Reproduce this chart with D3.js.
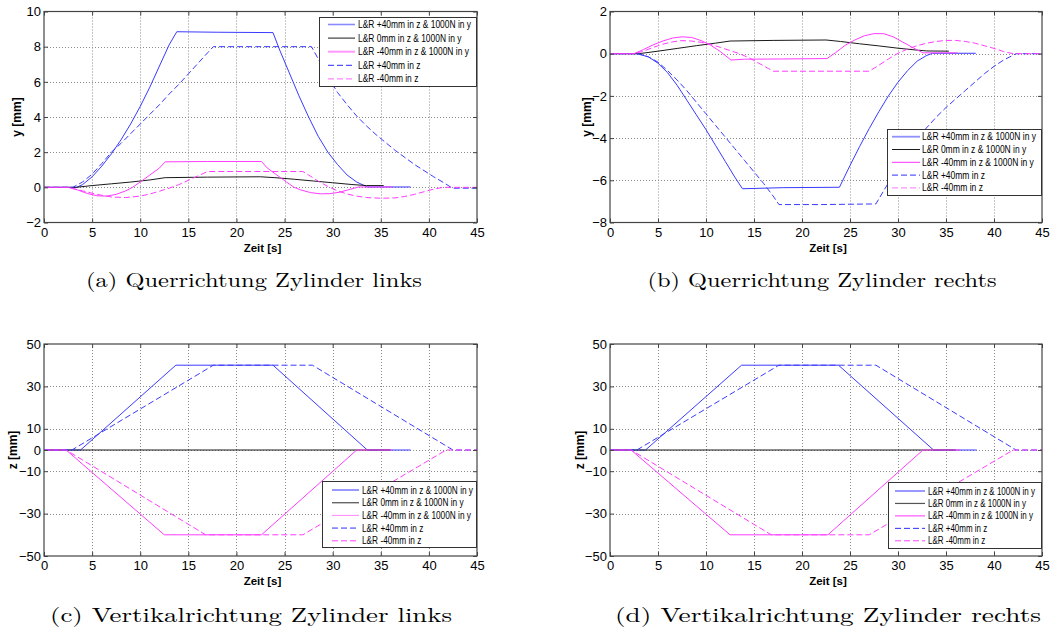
<!DOCTYPE html>
<html>
<head>
<meta charset="utf-8">
<script src="https://cdn.jsdelivr.net/npm/d3@7"></script>
<style>
  html, body { margin: 0; padding: 0; background: #fff; }
  svg { display: block; }
  text { font-family: "Liberation Sans", Arial, sans-serif; fill: #000; }
  .caption { font-family: "Latin Modern Roman", "Liberation Serif", "DejaVu Serif", serif; }
</style>
</head>
<body>
<svg id="fig" width="1061" height="627"></svg>
<script>
// Series labels shared by every panel
const seriesNames = [
  "L&R +40mm in z & 1000N in y",
  "L&R 0mm in z & 1000N in y",
  "L&R -40mm in z & 1000N in y",
  "L&R +40mm in z",
  "L&R -40mm in z"
];

const timeTicks = [0, 5, 10, 15, 20, 25, 30, 35, 40, 45];
const yTicksLeft = [-2, 0, 2, 4, 6, 8, 10];
const yTicksRight = [-8, -6, -4, -2, 0, 2];
const zTicks = [-50, -30, -10, 0, 10, 30, 50];

// (a) lateral displacement y [mm], left cylinder — [time s, value mm]
const aPlus40Force = [[0,0],[3.4,0],[4,0.15],[5,0.6],[6,1.2],[7,1.9],[8,2.7],[9,3.6],[10,4.6],[11,5.7],[12,6.9],[13,8.1],[13.8,8.85],[18,8.82],[23.8,8.8],[24.5,7.8],[25.5,6.5],[26.5,5.2],[27.5,4.0],[28.5,2.9],[29.5,2.0],[30.5,1.3],[31.5,0.7],[32.5,0.3],[33.6,0.02],[38.1,0.02]];
const aZeroForce = [[0,0],[3.3,0],[5,0.1],[7,0.2],[9,0.3],[11,0.42],[12.6,0.55],[17,0.58],[22.5,0.6],[24,0.55],[26,0.46],[28,0.36],[30,0.26],[32,0.16],[33.5,0.1],[35.3,0.1]];
const aMinus40Force = [[0,0],[2.5,0],[3.5,-0.15],[4.5,-0.35],[5.5,-0.48],[6.5,-0.5],[7.5,-0.4],[8.5,-0.2],[9.2,0],[10,0.3],[11,0.7],[12,1.1],[12.6,1.45],[17,1.47],[22.6,1.47],[23.2,1.1],[24.2,0.7],[25.2,0.3],[26,0],[26.7,-0.15],[27.7,-0.3],[28.7,-0.37],[29.7,-0.36],[30.7,-0.28],[31.7,-0.13],[32.7,0.02],[36.2,0.02]];
const aPlus40 = [[0,0],[3,0],[4,0.3],[5,0.75],[6,1.35],[7,2.0],[8,2.5],[9,3.05],[10,3.6],[11,4.15],[12,4.7],[13,5.3],[14,5.85],[15,6.45],[16,7.05],[17,7.65],[17.6,8.0],[22,8.0],[27.8,8.0],[28.5,7.3],[29.5,6.3],[30.5,5.4],[31.5,4.7],[32.5,4.05],[33.5,3.5],[34.5,3.0],[35.5,2.55],[36.5,2.1],[37.5,1.7],[38.5,1.3],[39.5,0.95],[40.5,0.6],[41.5,0.28],[42.3,0],[42.6,-0.05],[45,-0.05]];
const aMinus40 = [[0,0],[2.5,0],[4,-0.2],[5.5,-0.4],[7,-0.55],[8.5,-0.58],[10,-0.5],[11,-0.38],[12,-0.22],[13,-0.05],[14,0.15],[15,0.4],[16,0.65],[17,0.9],[22,0.9],[26.9,0.9],[27.5,0.7],[28.5,0.35],[29.5,0.05],[30.5,-0.2],[31.5,-0.38],[32.5,-0.5],[33.5,-0.58],[35,-0.62],[36.5,-0.6],[37.5,-0.52],[38.5,-0.4],[39.5,-0.25],[40.5,-0.1],[41.5,0],[45,0]];

// (b) lateral displacement y [mm], right cylinder
const bPlus40Force = [[0,0],[2.8,0],[4,-0.15],[5,-0.45],[6,-0.9],[7,-1.5],[8,-2.2],[9,-2.9],[10,-3.6],[11,-4.35],[12,-5.1],[13,-5.85],[13.8,-6.4],[18,-6.35],[23.9,-6.33],[25,-5.3],[26,-4.4],[27,-3.55],[28,-2.75],[29,-2.0],[30,-1.35],[31,-0.8],[32,-0.35],[33,-0.08],[33.6,0.02],[38.1,0.02]];
const bZeroForce = [[0,0],[3,0],[5,0.12],[7,0.25],[9,0.38],[11,0.5],[12.5,0.6],[17,0.63],[22.5,0.65],[24,0.58],[26,0.47],[28,0.37],[30,0.26],[32,0.17],[33,0.13],[35.3,0.12]];
const bMinus40Force = [[0,0],[2.5,0],[3.5,0.2],[4.5,0.42],[5.5,0.6],[6.5,0.74],[7.5,0.8],[8.5,0.77],[9.5,0.62],[10.5,0.4],[11.5,0.1],[12.6,-0.3],[14,-0.26],[18,-0.25],[22.6,-0.23],[23.5,0.05],[24.5,0.4],[25.5,0.65],[26.5,0.85],[27.5,0.95],[28.5,0.95],[29.5,0.8],[30.5,0.55],[31.5,0.3],[32.6,0.04],[36.2,0.04]];
const bPlus40 = [[0,0],[3,0],[4,-0.15],[5,-0.4],[6,-0.8],[7,-1.25],[8,-1.75],[9,-2.3],[10,-2.85],[11,-3.4],[12,-3.95],[13,-4.5],[14,-5.05],[15,-5.6],[16,-6.15],[17,-6.75],[17.6,-7.15],[22,-7.15],[27.7,-7.12],[28.5,-6.5],[29.5,-5.75],[30.5,-5.05],[31.5,-4.4],[32.8,-3.6],[34,-3.0],[35,-2.55],[36,-2.15],[37,-1.75],[38,-1.35],[39,-0.95],[40,-0.6],[41,-0.3],[42.3,0],[45,0]];
const bMinus40 = [[0,0],[2.5,0],[3.5,0.12],[4.5,0.3],[5.5,0.45],[6.5,0.56],[7.5,0.62],[8.5,0.6],[9.5,0.54],[10.5,0.44],[11.5,0.3],[12.5,0.15],[13.5,0],[14.5,-0.2],[15.5,-0.45],[16.5,-0.7],[17,-0.83],[22,-0.83],[27,-0.83],[28,-0.55],[29,-0.25],[30,0.02],[31,0.22],[32,0.38],[33,0.5],[34,0.58],[35,0.63],[36,0.63],[37,0.58],[38,0.5],[39,0.38],[40,0.25],[41,0.1],[42,0],[45,0]];

// (c) vertical displacement z [mm], left cylinder
const cPlus40Force = [[0,0],[3.8,0],[13.7,40],[23.8,40],[33.6,0],[38.1,0]];
const cZeroForce = [[0,0],[36,0]];
const cMinus40Force = [[0,0],[2.3,0],[12.5,-40],[22.6,-40],[32.5,0],[36.2,0]];
const cPlus40 = [[0,0],[2.9,0],[17.6,40],[27.9,40],[42.5,0],[45,0]];
const cMinus40 = [[0,0],[2.3,0],[16.8,-40],[26.9,-40],[41.8,0],[45,0]];

// (d) vertical displacement z [mm], right cylinder
const dPlus40Force = [[0,0],[3.7,0],[13.7,40],[23.8,40],[33.7,0],[38.2,0]];
const dZeroForce = [[0,0],[36,0]];
const dMinus40Force = [[0,0],[2.2,0],[12.5,-40],[22.7,-40],[32.6,0],[36.5,0]];
const dPlus40 = [[0,0],[2.8,0],[17.6,40],[27.7,40],[42.3,0],[45,0]];
const dMinus40 = [[0,0],[2.2,0],[16.8,-40],[27,-40],[42,0],[45,0]];

const BLUE = "#3a3aff", BLACK = "#1a1a1a", MAGENTA = "#ff3cff";
const DASH = "6,3";

const panels = [
  { box: [44, 477, 11.5, 222.5], yDomain: [-2, 10], yTicks: yTicksLeft, yLabel: "y [mm]", yLabelX: 21,
    caption: "(a) Querrichtung Zylinder links", capX: 254, capY: 287, capW: 336,
    series: [aPlus40Force, aZeroForce, aMinus40Force, aPlus40, aMinus40],
    legend: { x: 319, y: 17, w: 158, h: 69, l0: 328, l1: 355, tx: 358, textW: 113, row0: 24.5, dy: 13.6,
              colors: ["#8a8aff", BLACK, "#ff99ff", "#2a2aff", "#ff66ff"], widths: [1.6, 1, 2, 1, 1] } },
  { box: [610, 1042, 11.5, 222.5], yDomain: [-8, 2], yTicks: yTicksRight, yLabel: "y [mm]", yLabelX: 591,
    caption: "(b) Querrichtung Zylinder rechts", capX: 822, capY: 287, capW: 349,
    series: [bPlus40Force, bZeroForce, bMinus40Force, bPlus40, bMinus40],
    legend: { x: 887, y: 129, w: 155, h: 66, l0: 892, l1: 920, tx: 922, textW: 114, row0: 136.7, dy: 12.8,
              colors: ["#8f8fff", BLACK, "#ff33ff", "#3030ff", "#ff77ff"], widths: [1.8, 1, 1, 1, 1] } },
  { box: [44, 477, 344, 556], yDomain: [-50, 50], yTicks: zTicks, yLabel: "z [mm]", yLabelX: 17,
    caption: "(c) Vertikalrichtung Zylinder links", capX: 251, capY: 622, capW: 402,
    series: [cPlus40Force, cZeroForce, cMinus40Force, cPlus40, cMinus40],
    legend: { x: 322, y: 481, w: 155, h: 66, l0: 332, l1: 359, tx: 362, textW: 111, row0: 490, dy: 12.7,
              colors: ["#3333ff", "#666666", "#ff88ff", "#8888ff", "#ff44ff"], widths: [1, 1.4, 1, 1.6, 1] } },
  { box: [610, 1042, 344, 556], yDomain: [-50, 50], yTicks: zTicks, yLabel: "z [mm]", yLabelX: 584,
    caption: "(d) Vertikalrichtung Zylinder rechts", capX: 828, capY: 622, capW: 426,
    series: [dPlus40Force, dZeroForce, dMinus40Force, dPlus40, dMinus40],
    legend: { x: 888, y: 482, w: 154, h: 66, l0: 895, l1: 925, tx: 928, textW: 107, row0: 491, dy: 12.45,
              colors: ["#9999ff", "#555555", "#ff33ff", "#2a2aff", "#ff44ff"], widths: [2, 1.2, 1, 1, 1] } }
];

const seriesColor = [BLUE, BLACK, MAGENTA, BLUE, MAGENTA];
const seriesDash = [null, null, null, DASH, DASH];

const svg = d3.select("#fig");

panels.forEach((p) => {
  const [x0, x1, yTop, yBot] = p.box;
  const x = d3.scaleLinear().domain([0, 45]).range([x0, x1]);
  const y = d3.scaleLinear().domain(p.yDomain).range([yBot, yTop]);
  const g = svg.append("g");

  // dotted grid
  const grid = g.append("g").attr("stroke", "#8c8c8c").attr("stroke-width", 1)
    .attr("stroke-dasharray", "1,2");
  grid.selectAll(".gx").data(timeTicks.slice(1, -1)).join("line")
    .attr("x1", d => Math.round(x(d)) + 0.5).attr("x2", d => Math.round(x(d)) + 0.5)
    .attr("y1", yTop).attr("y2", yBot);
  grid.selectAll(".gy").data(p.yTicks.slice(1, -1)).join("line")
    .attr("y1", d => Math.round(y(d)) + 0.5).attr("y2", d => Math.round(y(d)) + 0.5)
    .attr("x1", x0).attr("x2", x1);

  // data lines
  const line = d3.line().x(d => x(d[0])).y(d => y(d[1]));
  p.series.forEach((s, i) => {
    g.append("path").datum(s)
      .attr("fill", "none")
      .attr("stroke", seriesColor[i])
      .attr("stroke-width", 1)
      .attr("stroke-dasharray", seriesDash[i])
      .attr("d", line);
  });

  // axes with inward ticks on all four sides
  const axisColor = "#444";
  const bottom = g.append("g").attr("transform", `translate(0,${yBot})`)
    .call(d3.axisBottom(x).tickValues(timeTicks).tickSizeInner(-4).tickSizeOuter(0).tickPadding(5));
  const top = g.append("g").attr("transform", `translate(0,${yTop})`)
    .call(d3.axisTop(x).tickValues(timeTicks).tickSizeInner(-4).tickSizeOuter(0).tickFormat(""));
  const left = g.append("g").attr("transform", `translate(${x0},0)`)
    .call(d3.axisLeft(y).tickValues(p.yTicks).tickSizeInner(-4).tickSizeOuter(0).tickPadding(3));
  const right = g.append("g").attr("transform", `translate(${x1},0)`)
    .call(d3.axisRight(y).tickValues(p.yTicks).tickSizeInner(-4).tickSizeOuter(0).tickFormat(""));
  [bottom, top, left, right].forEach(a => {
    a.select(".domain").remove();
    a.selectAll("line").attr("stroke", axisColor);
    a.selectAll("text").attr("font-size", 13)
      .attr("font-family", "'Liberation Sans', Arial, sans-serif").attr("fill", "#000");
  });
  bottom.selectAll("text").attr("dy", "0.71em");
  g.append("rect").attr("x", x0).attr("y", yTop)
    .attr("width", x1 - x0).attr("height", yBot - yTop)
    .attr("fill", "none").attr("stroke", axisColor).attr("stroke-width", 1.2);

  // axis labels
  g.append("text").attr("x", (x0 + x1) / 2 + 2).attr("y", yBot + 29)
    .attr("text-anchor", "middle").attr("font-size", 11.5).attr("font-weight", "bold")
    .text("Zeit [s]");
  g.append("text")
    .attr("transform", `translate(${p.yLabelX},${(yTop + yBot) / 2}) rotate(-90)`)
    .attr("text-anchor", "middle").attr("font-size", 12).attr("font-weight", "bold")
    .text(p.yLabel);

  // legend
  const L = p.legend;
  const lg = g.append("g");
  lg.append("rect").attr("x", L.x + 0.5).attr("y", L.y + 0.5).attr("width", L.w - 1).attr("height", L.h)
    .attr("fill", "#fff").attr("stroke", "#333").attr("stroke-width", 1);
  const labels = [];
  seriesNames.forEach((name, i) => {
    const cy = L.row0 + i * L.dy;
    lg.append("line").attr("x1", L.l0).attr("x2", L.l1).attr("y1", cy).attr("y2", cy)
      .attr("stroke", L.colors[i]).attr("stroke-width", L.widths[i])
      .attr("stroke-dasharray", seriesDash[i]);
    labels.push(lg.append("text").attr("x", L.tx).attr("y", cy).attr("dy", "0.35em")
      .attr("font-size", 10).attr("fill", "#111").text(name));
  });
  // narrow the legend type so the longest entry fits the box
  const squeeze = L.textW / labels[0].node().getComputedTextLength();
  labels.forEach(t => {
    const w = t.node().getComputedTextLength();
    t.attr("textLength", w * squeeze).attr("lengthAdjust", "spacingAndGlyphs");
  });

  // caption below the panel
  svg.append("text").attr("class", "caption")
    .attr("x", p.capX).attr("y", p.capY).attr("text-anchor", "middle")
    .attr("font-size", 20).attr("textLength", p.capW).attr("lengthAdjust", "spacingAndGlyphs")
    .text(p.caption);
});
</script>
</body>
</html>
